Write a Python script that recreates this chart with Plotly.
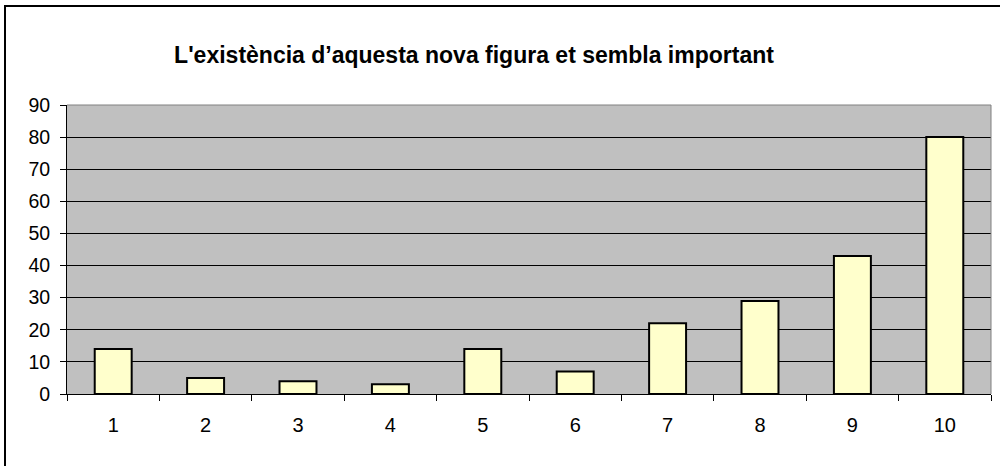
import plotly.graph_objects as go

categories = [1, 2, 3, 4, 5, 6, 7, 8, 9, 10]
values = [14, 5, 4, 3, 14, 7, 22, 29, 43, 80]
y_ticks = [0, 10, 20, 30, 40, 50, 60, 70, 80, 90]
title_text = "L'existència d’aquesta nova figura et sembla important"

W, H = 1000, 466
L, R, T, B = 67, 991, 105, 394

fig = go.Figure()
fig.add_trace(go.Bar(
    x=categories, y=values,
    marker=dict(color="#FFFFCC", line=dict(color="black", width=2)),
    width=0.4,
))

fig.update_layout(
    width=W, height=H,
    margin=dict(l=L, r=W - R, t=T, b=H - B, pad=0),
    paper_bgcolor="white",
    plot_bgcolor="#C0C0C0",
    showlegend=False,
    font=dict(family="Liberation Sans, Arial, sans-serif", color="black", size=19),
    title=dict(
        text="<b>" + title_text + "</b>",
        font=dict(family="Liberation Sans, Arial, sans-serif", size=23, color="black"),
        x=474 / W, xanchor="center", xref="container",
        y=1 - 55 / H, yanchor="middle", yref="container",
    ),
    xaxis=dict(
        range=[0.5, 10.5],
        tickvals=categories,
        ticktext=[str(c) for c in categories],
        ticks="",
        showgrid=False,
        zeroline=False,
        showline=True, linecolor="black", linewidth=1,
        tickfont=dict(size=20),
        minor=dict(tickvals=[c - 0.5 for c in categories] + [10.5], ticks="outside",
                   ticklen=6, tickcolor="black", tickwidth=1, showgrid=False),
        ticklabelstandoff=13,
        automargin=False,
    ),
    yaxis=dict(
        range=[0, 90],
        tickvals=y_ticks,
        ticks="outside", ticklen=6, tickcolor="black", tickwidth=1,
        showgrid=True, gridcolor="black", gridwidth=1,
        zeroline=False,
        showline=True, linecolor="black", linewidth=1,
        tickfont=dict(size=19.5),
        ticklabelstandoff=6,
        automargin=False,
    ),
    bargap=0.6,
)

# plot-area border (gray) at top and right
fig.add_shape(type="line", xref="paper", yref="paper", x0=0, x1=1, y0=1, y1=1,
              line=dict(color="#808080", width=1))
fig.add_shape(type="line", xref="paper", yref="paper", x0=1, x1=1, y0=0, y1=1,
              line=dict(color="#808080", width=1))

# outer chart border
pw, ph = R - L, B - T
fig.add_shape(type="rect", xref="paper", yref="paper",
              x0=(5 - L) / pw, x1=(1010 - L) / pw,
              y0=(B - 480) / ph, y1=(B - 6) / ph,
              line=dict(color="black", width=2), fillcolor="rgba(0,0,0,0)", layer="below")

fig.write_html("out.html", config={"displayModeBar": False},
               post_script="document.body.style.margin='0';document.body.style.overflow='hidden';")
